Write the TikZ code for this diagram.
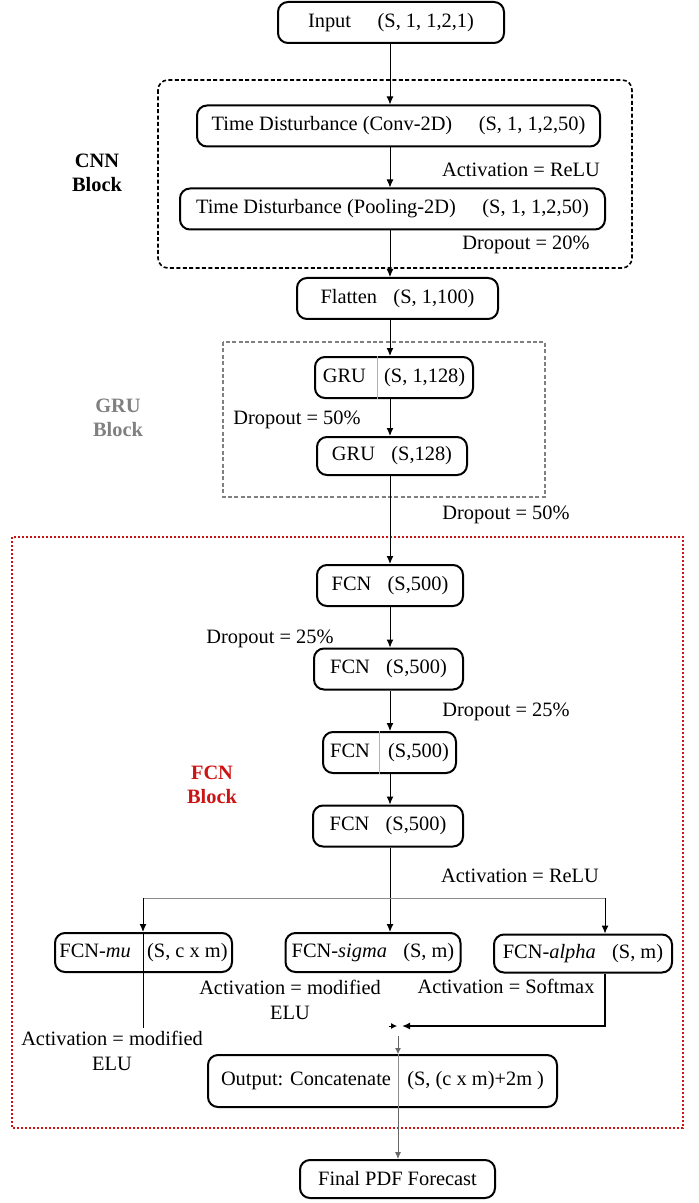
\documentclass[tikz,border=0pt]{standalone}
\usepackage{fontspec}
\setmainfont{Liberation Serif}
\usetikzlibrary{arrows.meta, positioning}
\definecolor{blockred}{RGB}{204, 20, 20}
\definecolor{blockgray}{RGB}{128, 128, 128}
\begin{document}
\begin{tikzpicture}[x=0.5pt, y=-0.5pt,
    layer/.style={rectangle, draw=black, line width=1pt, rounded corners=5pt,
                  minimum height=20.5pt, inner sep=2pt, align=center,
                  font=\fontsize{10.2}{12.5}\selectfont},
    wd/.style={minimum width=#1*0.5pt},
    note/.style={inner sep=1pt, align=center, font=\fontsize{10.2}{12.5}\selectfont},
    blk/.style={inner sep=1pt, align=center, font=\fontsize{10.2}{12}\selectfont\bfseries},
    flow/.style={-{Latex[length=4pt,width=3.5pt]}, line width=0.5pt},
    branch/.style={line width=0.5pt, black!45},
    divider/.style={line width=0.4pt, black!30},
    cnnframe/.style={draw=black, line width=0.8pt, rounded corners=5pt, dash pattern=on 2pt off 1.2pt},
    gruframe/.style={draw=blockgray, line width=0.8pt, dash pattern=on 2pt off 1.2pt},
    fcnframe/.style={draw=blockred, line width=0.8pt, dash pattern=on 1pt off 1pt}
]
\useasboundingbox (0,0) rectangle (699,1203);

% block frames
\draw[cnnframe] (158,80) rectangle (632,268);
\draw[gruframe] (223,342) rectangle (545,497);
\draw[fcnframe] (12,537) rectangle (683,1128);

\node[blk] (cnnlbl) at (97,173) {CNN\\Block};
\node[blk, text=blockgray] (grulbl) at (118,418) {GRU\\Block};
\node[blk, text=blockred] (fcnlbl) at (212,785) {FCN\\Block};

% layers
\node[layer, wd=226] (input) at (391,22.5) {Input\hspace{1.3em}(S, 1, 1,2,1)};
\node[layer, wd=403] (conv) at (398.5,126) {Time Disturbance (Conv-2D)\hspace{1.3em}(S, 1, 1,2,50)};
\node[layer, wd=425] (pool) at (392.5,209) {Time Disturbance (Pooling-2D)\hspace{1.3em}(S, 1, 1,2,50)};
\node[layer, wd=201] (flat) at (397.5,298.5) {Flatten\hspace{0.8em}(S, 1,100)};
\node[layer, wd=158] (gru1) at (394,377.5) {GRU\hspace{0.9em}(S, 1,128)};
\node[layer, wd=150, minimum height=19pt] (gru2) at (392,456) {GRU\hspace{0.8em}(S,128)};
\node[layer, wd=146] (fcn1) at (390,585.5) {FCN\hspace{0.8em}(S,500)};
\node[layer, wd=149] (fcn2) at (388.5,669) {FCN\hspace{0.8em}(S,500)};
\node[layer, wd=133] (fcn3) at (389.5,752.5) {FCN\hspace{0.9em}(S,500)};
\node[layer, wd=150] (fcn4) at (388,826) {FCN\hspace{0.8em}(S,500)};
\node[layer, wd=177, minimum height=19.5pt] (mu) at (143.5,952.5) {FCN-\textit{mu}\hspace{0.8em}(S, c x m)};
\node[layer, wd=175, minimum height=19.5pt] (sigma) at (373,952.5) {FCN-\textit{sigma}\hspace{0.8em}(S, m)};
\node[layer, wd=178, minimum height=19pt] (alpha) at (583,953.5) {FCN-\textit{alpha}\hspace{0.8em}(S, m)};
\node[layer, wd=349, minimum height=26pt] (out) at (382.5,1081) {Output: Concatenate\hspace{0.8em}(S, (c x m)+2m )};
\node[layer, wd=195, minimum height=19pt] (final) at (397.5,1179) {Final PDF Forecast};

% labels
\node[note] (actcnn) at (521,170) {Activation = ReLU};
\node[note] (dropcnn) at (526,245) {Dropout = 20\%};
\node[note] (dropgru) at (297,420) {Dropout = 50\%};
\node[note] (dropmid) at (506,515) {Dropout = 50\%};
\node[note] (dropa) at (270,639) {Dropout = 25\%};
\node[note] (dropb) at (506,712) {Dropout = 25\%};
\node[note] (actfcn) at (520,876) {Activation = ReLU};
\node[note] (actsigma) at (290,999.5) {Activation = modified\\ELU};
\node[note] (actalpha) at (506,986) {Activation = Softmax};
\node[note] (actmu) at (112,1050.5) {Activation = modified\\ELU};

% helper points
\coordinate (spine) at (390,0);
\coordinate (divg) at (377,0);
\coordinate (divf) at (379,0);
\coordinate (brl) at (143,898);
\coordinate (brr) at (605,898);
\coordinate (mleft) at (389,1026);
\coordinate (mmid) at (397,1026);
\coordinate (mright) at (402,1026);
\coordinate (mdown) at (398,1036);

% main flow
\draw[flow] (input.south -| spine) -- (conv.north -| spine);
\draw[flow] (conv.south -| spine) -- (pool.north -| spine);
\draw[flow] (pool.south -| spine) -- (flat.north -| spine);
\draw[flow] (flat.south -| spine) -- (gru1.north -| spine);
\draw[flow] (gru1.south -| spine) -- (gru2.north -| spine);
\draw[flow] (gru2.south -| spine) -- (fcn1.north -| spine);
\draw[flow] (fcn1.south -| spine) -- (fcn2.north -| spine);
\draw[flow] (fcn2.south -| spine) -- (fcn3.north -| spine);
\draw[flow] (fcn3.south -| spine) -- (fcn4.north -| spine);
\draw[flow] (fcn4.south -| spine) -- (sigma.north -| spine);

% cell dividers
\draw[divider] (gru1.north -| divg) -- (gru1.south -| divg);
\draw[divider] (fcn3.north -| divf) -- (fcn3.south -| divf);

% output heads
\draw[branch] (brl) -- (brr);
\draw[flow] (brl) -- (mu.north -| brl);
\draw[flow] (brr) -- (alpha.north -| brr);
\draw[line width=0.5pt] (mu.north -| brl) -- (actmu.north -| brl);
\draw[flow, line width=1pt] (alpha.south -| brr) |- (mright);
\draw[-{Latex[length=3pt,width=3pt]}, line width=0.4pt] (mleft) -- (mmid);
\draw[-{Latex[length=3pt,width=3pt]}, line width=0.4pt, black!60] (mdown) -- (out.north -| mdown);
\draw[divider, black!45] (out.north -| mdown) -- (out.south -| mdown);
\draw[-{Latex[length=3.5pt,width=3pt]}, line width=0.4pt, black!60] (out.south -| mdown) -- (final.north -| mdown);
\end{tikzpicture}
\end{document}
